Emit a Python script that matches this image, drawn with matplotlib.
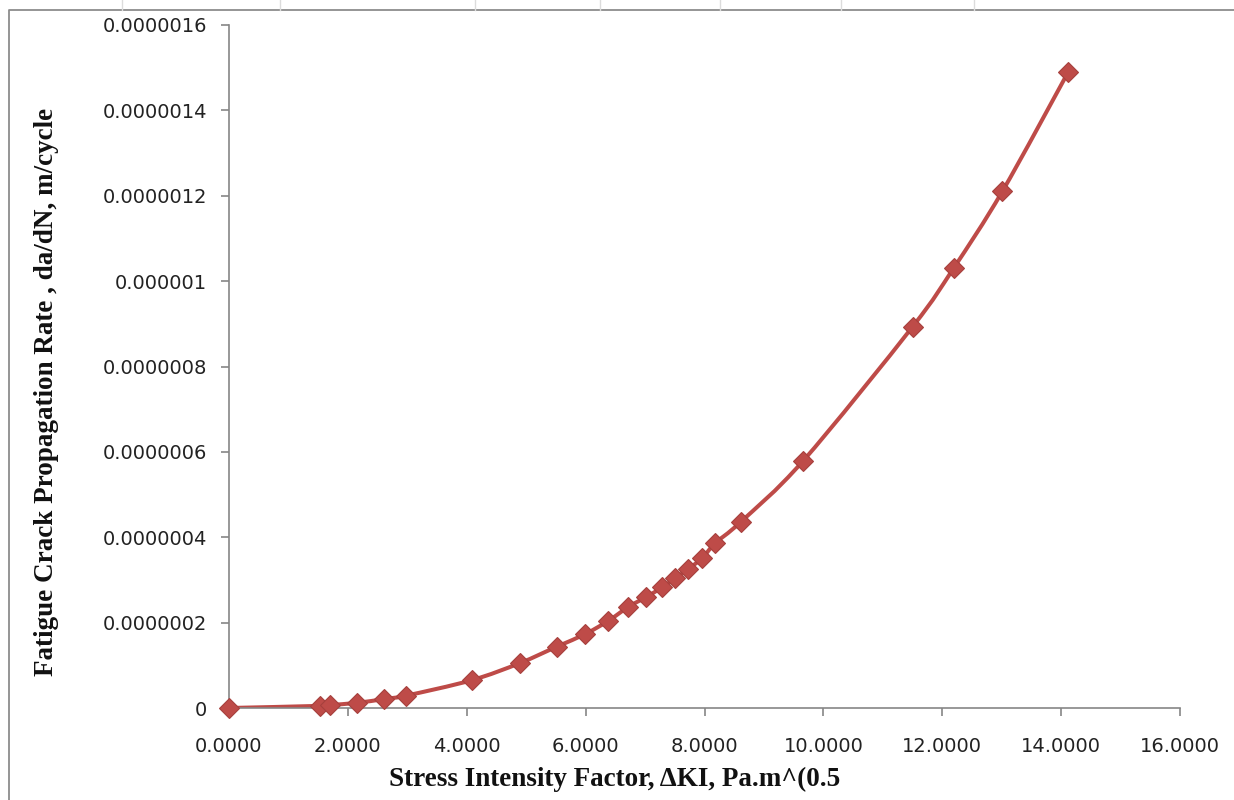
import matplotlib.pyplot as plt
from matplotlib.path import Path
from matplotlib.patches import PathPatch
from matplotlib.lines import Line2D
import numpy as np

# values
delta_k = [0.0, 1.53, 1.70, 2.15, 2.61, 2.98, 4.08, 4.89, 5.52, 5.99, 6.38,
           6.72, 7.02, 7.29, 7.51, 7.73, 7.96, 8.18, 8.61, 9.66, 11.50,
           12.19, 13.01, 14.12]
dadn = [0.0, 5e-9, 7e-9, 1.2e-8, 2.1e-8, 2.9e-8, 6.5e-8, 1.05e-7, 1.44e-7,
        1.73e-7, 2.04e-7, 2.37e-7, 2.60e-7, 2.83e-7, 3.04e-7, 3.26e-7,
        3.51e-7, 3.86e-7, 4.36e-7, 5.79e-7, 8.93e-7, 1.03e-6, 1.21e-6,
        1.49e-6]

x_ticks = [0, 2, 4, 6, 8, 10, 12, 14, 16]
x_tick_labels = ['0.0000', '2.0000', '4.0000', '6.0000', '8.0000',
                 '10.0000', '12.0000', '14.0000', '16.0000']
y_ticks = [0, 2e-7, 4e-7, 6e-7, 8e-7, 1e-6, 1.2e-6, 1.4e-6, 1.6e-6]
y_tick_labels = ['0', '0.0000002', '0.0000004', '0.0000006', '0.0000008',
                 '0.000001', '0.0000012', '0.0000014', '0.0000016']

line_color = '#BE4B48'
axis_color = '#868686'


def smooth_path(xs, ys, tension=1 / 6):
    # Excel-like smoothed line: cubic Bezier segments through every point
    pts = np.column_stack([xs, ys])
    verts = [pts[0]]
    codes = [Path.MOVETO]
    n = len(pts)
    for i in range(n - 1):
        p0 = pts[max(i - 1, 0)]
        p1 = pts[i]
        p2 = pts[i + 1]
        p3 = pts[min(i + 2, n - 1)]
        c1 = p1 + (p2 - p0) * tension
        c2 = p2 - (p3 - p1) * tension
        verts += [c1, c2, p2]
        codes += [Path.CURVE4] * 3
    return Path(verts, codes)


fig = plt.figure(figsize=(12.34, 8), dpi=100)
ax = fig.add_axes([229 / 1234, 92 / 800, 951 / 1234, 683 / 800])

ax.add_patch(PathPatch(smooth_path(delta_k, dadn), facecolor='none',
                       edgecolor=line_color, lw=2.9, capstyle='round',
                       zorder=2))
ax.plot(delta_k, dadn, linestyle='none', marker='D', markersize=10,
        markerfacecolor=line_color, markeredgecolor='#A6403D',
        markeredgewidth=0.8, zorder=3, clip_on=False)

ax.set_xlim(0, 16)
ax.set_ylim(0, 1.6e-6)
ax.set_xticks(x_ticks)
ax.set_xticklabels(x_tick_labels)
ax.set_yticks(y_ticks)
ax.set_yticklabels(y_tick_labels)

for side in ['top', 'right']:
    ax.spines[side].set_visible(False)
for side in ['left', 'bottom']:
    ax.spines[side].set_color(axis_color)
    ax.spines[side].set_linewidth(1.2)

ax.tick_params(axis='both', direction='out', color=axis_color, width=1.2,
               length=6, labelsize=14, labelcolor='#222222')
ax.tick_params(axis='y', pad=10)
ax.tick_params(axis='x', pad=15)

serif = 'Liberation Serif'
fig.text(615 / 1234, 1 - 779 / 800, 'Stress Intensity Factor, \u0394KI, Pa.m^(0.5',
         ha='center', va='center', fontsize=19.5, fontweight='bold',
         family=serif, color='#111111')
fig.text(47 / 1234, 1 - 392 / 800,
         'Fatigue Crack Propagation Rate , da/dN, m/cycle',
         ha='center', va='center', rotation=90, fontsize=19.5,
         fontweight='bold', family=serif, color='#111111')

# chart area border and the sheet gridlines peeking out above it
top = 1 - 10 / 800
left = 9 / 1234
fig.add_artist(Line2D([left, left, 1], [0, top, top], color='#8c8c8c',
                      lw=1.3, transform=fig.transFigure))
for gx in [122, 280, 475, 600, 720, 841, 974]:
    fig.add_artist(Line2D([gx / 1234, gx / 1234], [top, 1], color='#dcdcdc',
                          lw=1, transform=fig.transFigure))

fig.savefig('out.png', dpi=100)
